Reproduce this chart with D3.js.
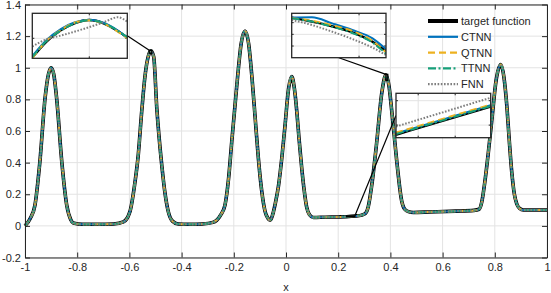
<!DOCTYPE html>
<html>
<head>
<meta charset="utf-8">
<script src="https://cdn.jsdelivr.net/npm/d3@7"></script>
<style>
  body { margin: 0; background: #fff; }
  svg { display: block; }
  text { font-family: "Liberation Sans", Arial, sans-serif; fill: #262626; }
</style>
</head>
<body>
<svg id="canvas" width="551" height="293"></svg>
<script>
// ---- data ----
let xTicks = [-1, -0.8, -0.6, -0.4, -0.2, 0, 0.2, 0.4, 0.6, 0.8, 1]
let xTickLabels = ['-1', '-0.8', '-0.6', '-0.4', '-0.2', '0', '0.2', '0.4', '0.6', '0.8', '1']
let yTicks = [-0.2, 0, 0.2, 0.4, 0.6, 0.8, 1, 1.2, 1.4]
let yTickLabels = ['-0.2', '0', '0.2', '0.4', '0.6', '0.8', '1', '1.2', '1.4']

let seriesNames = ['target function', 'CTNN', 'QTNN', 'TTNN', 'FNN']

// sampled curve (all models overlap at this scale)
let xVals = [-1, -0.98, -0.962, -0.943, -0.923, -0.91, -0.9, -0.89, -0.879, -0.859, -0.84, -0.825, -0.815,
  -0.78, -0.72, -0.66, -0.623, -0.598, -0.58, -0.566, -0.553, -0.54, -0.528, -0.518, -0.507, -0.495,
  -0.476, -0.463, -0.451, -0.435, -0.413, -0.37, -0.32, -0.28, -0.266, -0.25, -0.234, -0.22, -0.208,
  -0.196, -0.185, -0.172, -0.157, -0.143, -0.131, -0.118, -0.106, -0.093, -0.08, -0.07, -0.061, -0.048,
  -0.04, -0.029, -0.016, -0.004, 0.01, 0.022, 0.032, 0.041, 0.05, 0.06, 0.07, 0.079, 0.09, 0.105, 0.15,
  0.2, 0.232, 0.264, 0.29, 0.305, 0.315, 0.328, 0.347, 0.367, 0.383, 0.395, 0.405, 0.424, 0.443, 0.455,
  0.469, 0.488, 0.55, 0.65, 0.72, 0.74, 0.75, 0.762, 0.775, 0.788, 0.805, 0.823, 0.835, 0.846, 0.855,
  0.865, 0.875, 0.884, 0.895, 0.909, 0.95, 1]
let targetVals = [0, 0.047, 0.13, 0.405, 0.81, 0.96, 1.0, 0.96, 0.81, 0.405, 0.13, 0.04, 0.018,
  0.01, 0.01, 0.012, 0.025, 0.09, 0.26, 0.45, 0.72, 0.95, 1.07, 1.107, 1.07, 0.743,
  0.384, 0.2, 0.09, 0.03, 0.012, 0.01, 0.012, 0.022, 0.035, 0.07, 0.13, 0.3, 0.53,
  0.75, 0.95, 1.15, 1.232, 1.15, 0.95, 0.68, 0.43, 0.22, 0.09, 0.05, 0.036, 0.09,
  0.15, 0.25, 0.43, 0.63, 0.87, 0.945, 0.87, 0.73, 0.55, 0.37, 0.22, 0.12, 0.07, 0.053, 0.055,
  0.0565, 0.058, 0.062, 0.068, 0.08, 0.12, 0.25, 0.52, 0.84, 0.955, 0.88, 0.73, 0.415, 0.16, 0.105,
  0.09, 0.085, 0.088, 0.093, 0.098, 0.105, 0.15, 0.28, 0.46, 0.66, 0.92, 1.02, 0.94, 0.76, 0.55,
  0.34, 0.2, 0.14, 0.11, 0.1, 0.1, 0.1]

// inset 1: around the peak near x = -0.52
let inset1XDomain = [-0.524, -0.514]
let inset1YDomain = [1.092, 1.11]
let inset1XTicks = [-0.518]
let inset1YTicks = [1.1]
let inset1X = [-0.524, -0.5225, -0.521, -0.5195, -0.518, -0.5165, -0.515, -0.514]
let inset1Target = [1.0923, 1.0987, 1.1032, 1.1061, 1.1073, 1.1060, 1.1029, 1.1003]
let inset1CTNN = [1.0928, 1.0993, 1.1037, 1.1064, 1.1074, 1.1062, 1.1031, 1.1002]
let inset1QTNN = [1.0920, 1.0990, 1.1033, 1.1063, 1.1072, 1.1059, 1.1027, 1.1000]
let inset1TTNN = [1.0925, 1.0989, 1.1031, 1.1060, 1.1072, 1.1061, 1.1030, 1.1004]
let inset1FNN = [1.0967, 1.0996, 1.1011, 1.1027, 1.1045, 1.1064, 1.1084, 1.1067]

// inset 2: right flank of the peak near x = 0.38
let inset2XDomain = [0.383, 0.39]
let inset2YDomain = [0.92, 0.958]
let inset2XTicks = [0.388]
let inset2YTicks = [0.93, 0.94, 0.95]
let inset2X = [0.383, 0.3845, 0.386, 0.3875, 0.389, 0.39]
let inset2Target = [0.9543, 0.9509, 0.9469, 0.9417, 0.9337, 0.9257]
let inset2CTNN = [0.9543, 0.9546, 0.9494, 0.9437, 0.9366, 0.9274]
let inset2QTNN = [0.9537, 0.9517, 0.9477, 0.9429, 0.9343, 0.9246]
let inset2TTNN = [0.9537, 0.9509, 0.9466, 0.9411, 0.9329, 0.9234]
let inset2FNN = [0.9523, 0.9480, 0.9423, 0.9360, 0.9286, 0.9223]

// inset 3: flat part near x = 0.25
let inset3XDomain = [0.232, 0.264]
let inset3YDomain = [0.0575, 0.0635]
let inset3XTicks = [0.2395, 0.252]
let inset3YTicks = [0.0592, 0.0625]
let inset3X = [0.232, 0.24, 0.248, 0.256, 0.264]
let inset3Target = [0.0579, 0.05885, 0.0598, 0.06075, 0.0617]
let inset3CTNN = [0.05808, 0.05903, 0.05998, 0.06093, 0.06188]
let inset3QTNN = [0.05818, 0.05913, 0.06008, 0.06103, 0.06198]
let inset3TTNN = [0.05798, 0.05893, 0.05988, 0.06083, 0.06178]
let inset3FNN = [0.0590, 0.05998, 0.06095, 0.06193, 0.0629]

// ---- styles ----
let styles = [
  { color: '#000000', width: 3.6, dash: null },
  { color: '#0072BD', width: 2, dash: null },
  { color: '#EDB120', width: 2, dash: '7,4' },
  { color: '#17A07A', width: 2, dash: '8,2.5,2,2.5' },
  { color: '#7F7F7F', width: 2, dash: '1.6,1.6' }
]

let canvas = d3.select('#canvas')
let margin = { left: 25, right: 547, top: 4.5, bottom: 257.5 }

let x = d3.scaleLinear().domain([-1, 1]).range([margin.left, margin.right])
let y = d3.scaleLinear().domain([-0.2, 1.4]).range([margin.bottom, margin.top])

// grid
let grid = canvas.append('g').attr('stroke', '#e3e3e3').attr('stroke-width', 1)
xTicks.forEach((t) => {
  grid.append('line').attr('x1', x(t)).attr('x2', x(t)).attr('y1', margin.top).attr('y2', margin.bottom)
})
yTicks.forEach((t) => {
  grid.append('line').attr('x1', margin.left).attr('x2', margin.right).attr('y1', y(t)).attr('y2', y(t))
})

// main curves
let mainPoints = xVals.map((v, i) => [v, targetVals[i]])
let mainLine = d3.line().x(d => x(d[0])).y(d => y(d[1])).curve(d3.curveMonotoneX)
styles.forEach((s) => {
  canvas.append('path')
    .attr('d', mainLine(mainPoints))
    .attr('fill', 'none')
    .attr('stroke', s.color)
    .attr('stroke-width', s.width)
    .attr('stroke-dasharray', s.dash)
    .attr('stroke-linejoin', 'round')
})

// axes
let fmtX = (d) => xTickLabels[xTicks.indexOf(d)]
let fmtY = (d) => yTickLabels[yTicks.indexOf(d)]
let styleAxis = (g) => {
  g.selectAll('path').attr('stroke', '#262626')
  g.selectAll('line').attr('stroke', '#262626')
  g.selectAll('text').attr('font-size', 11).attr('fill', '#262626')
    .style('font-family', '"Liberation Sans", Arial, sans-serif')
}
canvas.append('g').attr('transform', 'translate(0,' + margin.bottom + ')')
  .call(d3.axisBottom(x).tickValues(xTicks).tickFormat(fmtX).tickSizeInner(-5).tickSizeOuter(0).tickPadding(6))
  .call(styleAxis)
canvas.append('g').attr('transform', 'translate(0,' + margin.top + ')')
  .call(d3.axisTop(x).tickValues(xTicks).tickFormat('').tickSizeInner(-5).tickSizeOuter(0))
  .call(styleAxis)
canvas.append('g').attr('transform', 'translate(' + margin.left + ',0)')
  .call(d3.axisLeft(y).tickValues(yTicks).tickFormat(fmtY).tickSizeInner(-5).tickSizeOuter(0).tickPadding(4))
  .call(styleAxis)
canvas.append('g').attr('transform', 'translate(' + margin.right + ',0)')
  .call(d3.axisRight(y).tickValues(yTicks).tickFormat('').tickSizeInner(-5).tickSizeOuter(0))
  .call(styleAxis)

canvas.append('text').text('x')
  .attr('x', (margin.left + margin.right) / 2).attr('y', 291)
  .attr('text-anchor', 'middle').attr('font-size', 11)

// insets
let drawInset = (cfg) => {
  let ix = d3.scaleLinear().domain(cfg.xDomain).range([cfg.box[0], cfg.box[2]])
  let iy = d3.scaleLinear().domain(cfg.yDomain).range([cfg.box[3], cfg.box[1]])

  // marker on the main plot
  let mx0 = x(cfg.xDomain[0]), mx1 = x(cfg.xDomain[1])
  let my0 = y(cfg.yDomain[1]), my1 = y(cfg.yDomain[0])
  canvas.append('rect')
    .attr('x', mx0).attr('y', my0).attr('width', mx1 - mx0).attr('height', my1 - my0)
    .attr('fill', 'none').attr('stroke', '#000').attr('stroke-width', 1.3)

  let bx = cfg.box
  let from = cfg.side === 'right' ? [bx[2], (bx[1] + bx[3]) / 2]
    : cfg.side === 'bottom' ? [(bx[0] + bx[2]) / 2, bx[3]]
    : [bx[0], (bx[1] + bx[3]) / 2]
  let to = cfg.corner === 'topright' ? [mx1, my0] : [mx0, my0]
  canvas.append('line')
    .attr('x1', from[0]).attr('y1', from[1]).attr('x2', to[0]).attr('y2', to[1])
    .attr('stroke', '#000').attr('stroke-width', 1.2)

  let g = canvas.append('g')
  g.append('rect').attr('x', bx[0]).attr('y', bx[1])
    .attr('width', bx[2] - bx[0]).attr('height', bx[3] - bx[1]).attr('fill', '#fff')

  let clipId = 'clip' + cfg.id
  g.append('clipPath').attr('id', clipId).append('rect')
    .attr('x', bx[0]).attr('y', bx[1]).attr('width', bx[2] - bx[0]).attr('height', bx[3] - bx[1])

  cfg.xTicks.forEach((t) => {
    g.append('line').attr('x1', ix(t)).attr('x2', ix(t)).attr('y1', bx[1]).attr('y2', bx[3])
      .attr('stroke', '#e3e3e3')
    g.append('line').attr('x1', ix(t)).attr('x2', ix(t)).attr('y1', bx[1]).attr('y2', bx[1] + 2).attr('stroke', '#262626')
    g.append('line').attr('x1', ix(t)).attr('x2', ix(t)).attr('y1', bx[3]).attr('y2', bx[3] - 2).attr('stroke', '#262626')
  })
  cfg.yTicks.forEach((t) => {
    g.append('line').attr('x1', bx[0]).attr('x2', bx[2]).attr('y1', iy(t)).attr('y2', iy(t))
      .attr('stroke', '#e3e3e3')
    g.append('line').attr('x1', bx[0]).attr('x2', bx[0] + 2).attr('y1', iy(t)).attr('y2', iy(t)).attr('stroke', '#262626')
    g.append('line').attr('x1', bx[2]).attr('x2', bx[2] - 2).attr('y1', iy(t)).attr('y2', iy(t)).attr('stroke', '#262626')
  })

  let line = d3.line().x(d => ix(d[0])).y(d => iy(d[1])).curve(d3.curveMonotoneX)
  cfg.series.forEach((vals, k) => {
    let s = styles[k]
    g.append('path')
      .attr('d', line(cfg.xs.map((v, i) => [v, vals[i]])))
      .attr('clip-path', 'url(#' + clipId + ')')
      .attr('fill', 'none')
      .attr('stroke', s.color)
      .attr('stroke-width', k === 0 ? 2.4 : 2)
      .attr('stroke-dasharray', s.dash)
  })

  g.append('rect').attr('x', bx[0]).attr('y', bx[1])
    .attr('width', bx[2] - bx[0]).attr('height', bx[3] - bx[1])
    .attr('fill', 'none').attr('stroke', '#262626').attr('stroke-width', 1.3)
}

drawInset({ id: 1, box: [32.3, 13.3, 127.3, 58.3], side: 'right', corner: 'topleft',
  xDomain: inset1XDomain, yDomain: inset1YDomain, xTicks: inset1XTicks, yTicks: inset1YTicks,
  xs: inset1X, series: [inset1Target, inset1CTNN, inset1QTNN, inset1TTNN, inset1FNN] })
drawInset({ id: 2, box: [291.7, 13.3, 386, 57.7], side: 'bottom', corner: 'topleft',
  xDomain: inset2XDomain, yDomain: inset2YDomain, xTicks: inset2XTicks, yTicks: inset2YTicks,
  xs: inset2X, series: [inset2Target, inset2CTNN, inset2QTNN, inset2TTNN, inset2FNN] })
drawInset({ id: 3, box: [396, 93.3, 490.7, 137.7], side: 'left', corner: 'topright',
  xDomain: inset3XDomain, yDomain: inset3YDomain, xTicks: inset3XTicks, yTicks: inset3YTicks,
  xs: inset3X, series: [inset3Target, inset3CTNN, inset3QTNN, inset3TTNN, inset3FNN] })

// legend (transparent box, the curve shows through)
let legend = canvas.append('g').attr('transform', 'translate(427,10)')
seriesNames.forEach((name, i) => {
  let s = styles[i]
  let ry = 11 + i * 15.8
  legend.append('line').attr('x1', 1).attr('x2', 31).attr('y1', ry).attr('y2', ry)
    .attr('stroke', s.color).attr('stroke-width', i === 0 ? 4 : 2.2)
    .attr('stroke-dasharray', s.dash)
  legend.append('text').text(name).attr('x', 34).attr('y', ry + 4).attr('font-size', 11)
})
</script>
</body>
</html>
